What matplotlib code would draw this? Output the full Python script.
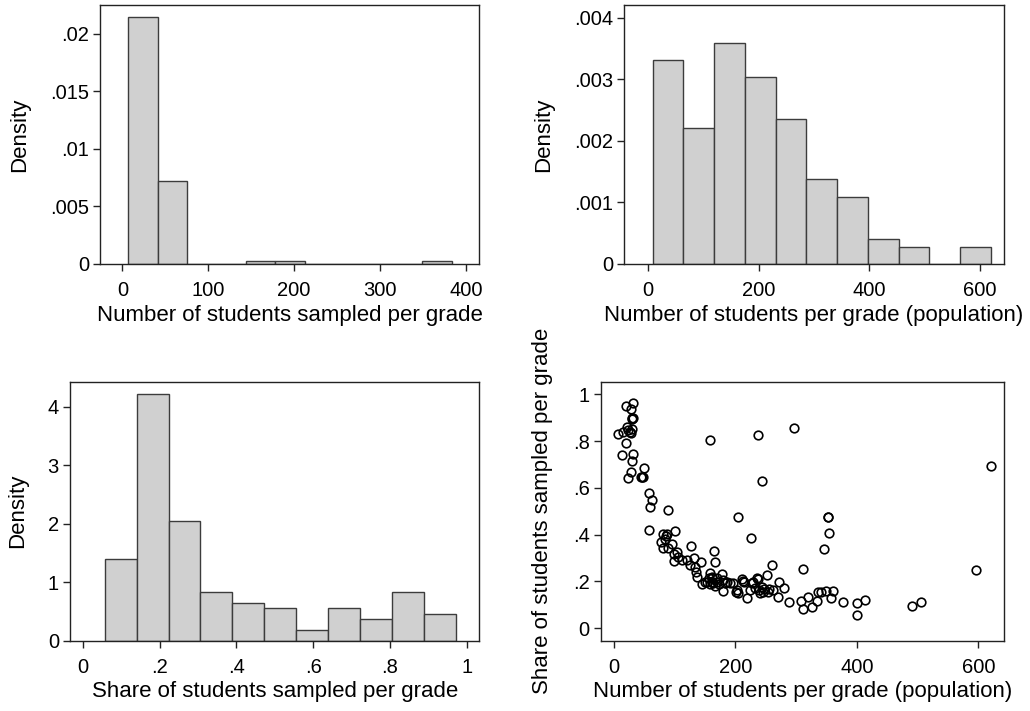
import numpy as np
import matplotlib.pyplot as plt

plt.rcParams['font.family'] = ['Liberation Sans', 'DejaVu Sans']

# histogram 1: number of students sampled per grade
samp_edges = np.linspace(7, 383.2, 12)
samp_dens = [0.02142, 0.00721, 0, 0, 0.00023, 0.00023, 0, 0, 0, 0, 0.00023]

# histogram 2: number of students per grade (population)
pop_edges = np.linspace(8, 620, 12)
pop_dens = [0.003308, 0.002214, 0.003589, 0.003037, 0.00235, 0.00138,
            0.001094, 0.000411, 0.000271, 0, 0.000271]

# histogram 3: share of students sampled per grade
share_edges = np.linspace(0.0573, 0.9714, 12)
share_dens = [1.402, 4.217, 2.051, 0.838, 0.650, 0.564, 0.177, 0.564,
              0.365, 0.838, 0.456]

# scatter: population vs share
pop_x = [6.0, 13.2, 15.4, 19.2, 21.4, 19.2, 27.5, 31.8, 30.2, 31.8, 29.6,
         25.8, 30.2, 27.5, 23.6, 27.5, 23.6, 31.8, 30.2, 49.4, 45.6, 43.9,
         47.2, 57.6, 62.1, 59.4, 89.5, 58.3, 158.1, 237.7, 243.2, 203.7,
         225.6, 80.2, 87.8, 100.5, 77.4, 80.2, 88.3, 83.9, 94.9, 85.6,
         99.4, 103.3, 105.9, 99.4, 111.6, 119.8, 127.0, 132.4, 125.2, 133.4,
         135.1, 136.2, 142.8, 144.5, 150.0, 158.1, 157.1, 160.9, 165.3,
         166.3, 163.7, 169.2, 160.9, 166.3, 152.6, 158.0, 173.6, 177.4,
         179.0, 182.8, 180.1, 191.0, 196.5, 202.0, 203.7, 213.0, 214.0,
         219.6, 224.0, 228.0, 232.4, 237.9, 239.0, 243.3, 246.1, 251.5,
         253.2, 259.8, 262.6, 297.0, 621.0, 353.0, 352.0, 354.6, 345.3,
         311.6, 595.7, 271.7, 280.0, 270.6, 288.2, 307.7, 311.0, 320.0,
         325.6, 333.6, 335.5, 341.0, 348.7, 357.0, 360.3, 376.6, 399.7,
         399.7, 413.4, 490.3, 505.7, 247.0, 256.0, 161.0, 169.0, 186.0,
         201.0, 210.0, 229.0, 236.0, 241.0]
share_y = [0.830, 0.740, 0.837, 0.793, 0.861, 0.951, 0.937, 0.961, 0.897,
           0.900, 0.894, 0.840, 0.850, 0.833, 0.847, 0.669, 0.640, 0.745,
           0.716, 0.683, 0.648, 0.648, 0.645, 0.576, 0.548, 0.519, 0.505,
           0.419, 0.804, 0.826, 0.630, 0.476, 0.385, 0.401, 0.402, 0.415,
           0.369, 0.341, 0.341, 0.381, 0.359, 0.392, 0.317, 0.327, 0.305,
           0.287, 0.290, 0.290, 0.352, 0.298, 0.270, 0.262, 0.241, 0.217,
           0.284, 0.188, 0.197, 0.237, 0.212, 0.220, 0.331, 0.281, 0.191,
           0.198, 0.198, 0.180, 0.198, 0.188, 0.188, 0.230, 0.207, 0.191,
           0.160, 0.191, 0.194, 0.163, 0.148, 0.201, 0.198, 0.127, 0.164,
           0.194, 0.170, 0.210, 0.161, 0.175, 0.153, 0.227, 0.153, 0.270,
           0.164, 0.854, 0.695, 0.476, 0.474, 0.405, 0.338, 0.251, 0.250,
           0.198, 0.170, 0.131, 0.113, 0.117, 0.080, 0.134, 0.091, 0.117,
           0.155, 0.155, 0.157, 0.127, 0.157, 0.110, 0.106, 0.056, 0.120,
           0.095, 0.110, 0.165, 0.165, 0.213, 0.213, 0.198, 0.155, 0.208,
           0.198, 0.213, 0.148]

bar_fill = '#d0d0d0'
bar_edge = '#3c3c3c'
tick_fs = 14.5
label_fs = 16


def style(ax):
    for s in ax.spines.values():
        s.set_linewidth(1.0)
        s.set_color('#222222')
    ax.tick_params(direction='out', length=5, width=1, labelsize=tick_fs,
                   color='#222222')
    ax.tick_params(axis='x', pad=7.5)
    ax.tick_params(axis='y', pad=3)


def hist(ax, edges, dens):
    ax.bar(edges[:-1], dens, width=np.diff(edges), align='edge',
           color=bar_fill, edgecolor=bar_edge, linewidth=1.0)


fig = plt.figure(figsize=(10.3, 7.11), dpi=100)

ax1 = fig.add_axes([0.0971, 0.6287, 0.3683, 0.3647])
hist(ax1, samp_edges, samp_dens)
ax1.set_xlim(-26, 415.6)
ax1.set_ylim(0, 0.02252)
ax1.set_xticks([0, 100, 200, 300, 400])
ax1.set_yticks([0, 0.005, 0.01, 0.015, 0.02])
ax1.set_yticklabels(['0', '.005', '.01', '.015', '.02'])
ax1.set_xlabel('Number of students sampled per grade', fontsize=label_fs, labelpad=3)
ax1.set_ylabel('Density', fontsize=label_fs, labelpad=14)
style(ax1)

ax2 = fig.add_axes([0.6061, 0.6287, 0.3686, 0.3647])
hist(ax2, pop_edges, pop_dens)
ax2.set_xlim(-43.5, 644)
ax2.set_ylim(0, 0.00421)
ax2.set_xticks([0, 200, 400, 600])
ax2.set_yticks([0, 0.001, 0.002, 0.003, 0.004])
ax2.set_yticklabels(['0', '.001', '.002', '.003', '.004'])
ax2.set_xlabel('Number of students per grade (population)', fontsize=label_fs, labelpad=3)
ax2.set_ylabel('Density', fontsize=label_fs, labelpad=14)
style(ax2)

ax3 = fig.add_axes([0.0680, 0.0989, 0.3974, 0.3643])
hist(ax3, share_edges, share_dens)
ax3.set_xlim(-0.033, 1.0326)
ax3.set_ylim(0, 4.427)
ax3.set_xticks([0, 0.2, 0.4, 0.6, 0.8, 1])
ax3.set_xticklabels(['0', '.2', '.4', '.6', '.8', '1'])
ax3.set_yticks([0, 1, 2, 3, 4])
ax3.set_xlabel('Share of students sampled per grade', fontsize=label_fs, labelpad=3)
ax3.set_ylabel('Density', fontsize=label_fs, labelpad=14)
style(ax3)

ax4 = fig.add_axes([0.5832, 0.0989, 0.3916, 0.3643])
ax4.plot(pop_x, share_y, linestyle='none', marker='o', ms=6.2,
         mfc='none', mec='black', mew=1.2)
ax4.set_xlim(-21.9, 642.3)
ax4.set_ylim(-0.054, 1.054)
ax4.set_xticks([0, 200, 400, 600])
ax4.set_yticks([0, 0.2, 0.4, 0.6, 0.8, 1])
ax4.set_yticklabels(['0', '.2', '.4', '.6', '.8', '1'])
ax4.set_xlabel('Number of students per grade (population)', fontsize=label_fs, labelpad=3)
ax4.set_ylabel('Share of students sampled per grade', fontsize=label_fs, labelpad=14)
style(ax4)

fig.savefig('out.png', dpi=100)
